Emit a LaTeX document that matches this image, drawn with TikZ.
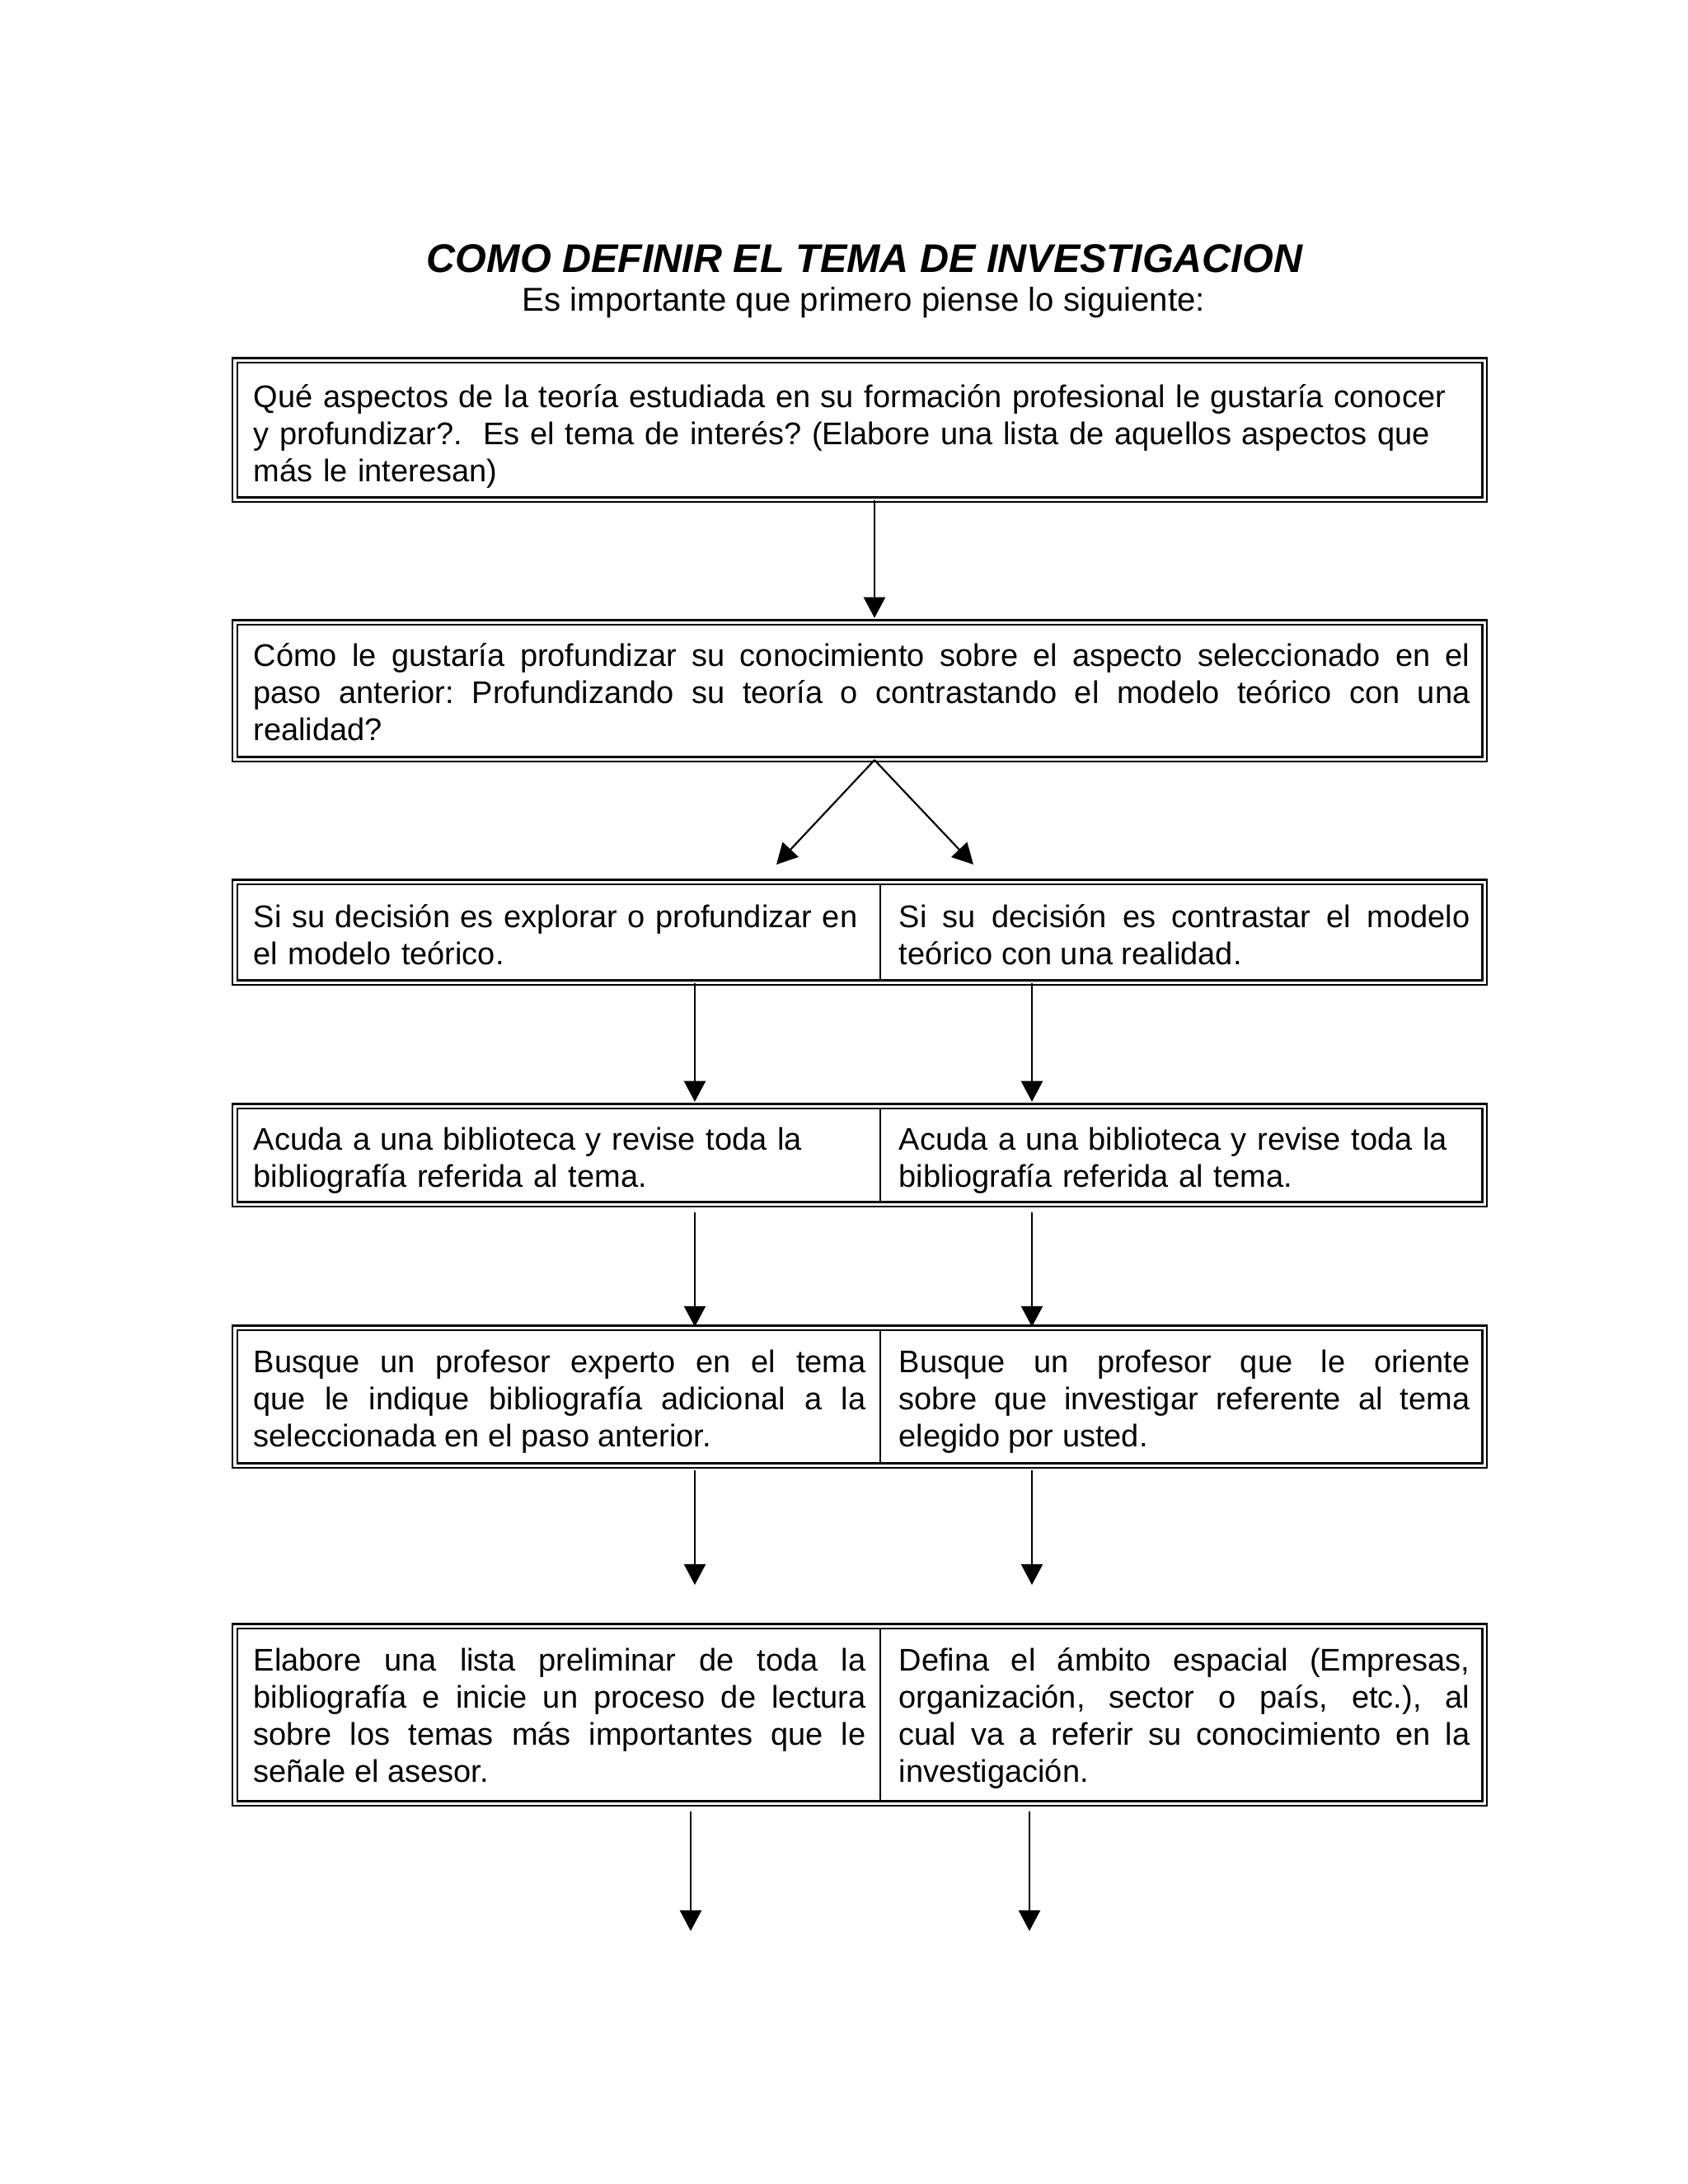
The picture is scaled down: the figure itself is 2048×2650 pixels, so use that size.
\documentclass[tikz,border=0pt]{standalone}
\usepackage{fontspec}
\setmainfont{Liberation Sans}
\usetikzlibrary{arrows.meta,fit}
\frenchspacing
\begin{document}
\begin{tikzpicture}[x=0.2988pt,y=-0.2988pt,
  frame/.style={rectangle, draw, double, line width=0.7pt, double distance=0.9pt, inner sep=0pt},
  txt/.style={inner sep=0pt, anchor=base west, font=\fontsize{11.35}{13.45}\selectfont\frenchspacing},
  jtxt/.style={txt, align=justify},
  ltxt/.style={txt, align=left},
  arr/.style={line width=0.65pt, -{Triangle[length=7.5pt,width=7.8pt]}},
  divl/.style={line width=0.6pt, shorten <=1pt, shorten >=1pt}]
\useasboundingbox (0,0) rectangle (2048,2650);

% title
\node[font=\fontsize{14.5}{17}\selectfont\bfseries\itshape, anchor=base, inner sep=0pt] (title) at (1049,330) {COMO DEFINIR EL TEMA DE INVESTIGACION};
\node[font=\fontsize{12}{14}\selectfont, anchor=base, inner sep=0pt] (sub) at (1048,377) {Es importante que primero piense lo siguiente:};

% helper coordinates
\coordinate (cx) at (1061,0);
\coordinate (cl) at (843,0);
\coordinate (cr) at (1252,0);
\coordinate (fl) at (838,0);
\coordinate (fr) at (1249,0);
\coordinate (dv) at (1068,0);
\coordinate (dl) at (942,1049);
\coordinate (dr) at (1181,1049);
\coordinate (e5l) at (843,1923);
\coordinate (e5r) at (1252,1923);
\coordinate (ffl) at (838,2343);
\coordinate (ffr) at (1249,2343);

% frames
\node[frame, fit={(285,437) (1801,606)}] (b1) {};
\node[frame, fit={(285,755) (1801,921)}] (b2) {};
\node[frame, fit={(285,1070) (1801,1192)}] (b3) {};
\node[frame, fit={(285,1342) (1801,1461)}] (b4) {};
\node[frame, fit={(285,1611) (1801,1778)}] (b5) {};
\node[frame, fit={(285,1973) (1801,2188)}] (b6) {};

% dividers
\draw[divl] (b3.north -| dv) -- (b3.south -| dv);
\draw[divl] (b4.north -| dv) -- (b4.south -| dv);
\draw[divl] (b5.north -| dv) -- (b5.south -| dv);
\draw[divl] (b6.north -| dv) -- (b6.south -| dv);

% texts
\node[ltxt, text width=480pt] (t1) at (307,494) {Qué aspectos de la teoría estudiada en su formación profesional le gustaría conocer\\ y profundizar?.\ \ Es el tema de interés? (Elabore una lista de aquellos aspectos que\\ más le interesan)};

\node[jtxt, text width=441pt] (t2) at (307,808) {Cómo le gustaría profundizar su conocimiento sobre el aspecto seleccionado en el\linebreak paso anterior: Profundizando su teoría o contrastando el modelo teórico con una\linebreak realidad?};

\node[ltxt, text width=250pt] (t3l) at (307,1125) {Si su decisión es explorar o profundizar en\\ el modelo teórico.};
\node[jtxt, text width=207pt] (t3r) at (1090,1125) {Si su decisión es contrastar el modelo\linebreak teórico con una realidad.};

\node[ltxt, text width=250pt] (t4l) at (307,1395) {Acuda a una biblioteca y revise toda la\\ bibliografía referida al tema.};
\node[ltxt, text width=240pt] (t4r) at (1090,1395) {Acuda a una biblioteca y revise toda la\\ bibliografía referida al tema.};

\node[jtxt, text width=222pt] (t5l) at (307,1665) {Busque un profesor experto en el tema\linebreak que le indique bibliografía adicional a la\linebreak seleccionada en el paso anterior.};
\node[jtxt, text width=207pt] (t5r) at (1090,1665) {Busque un profesor que le oriente\linebreak sobre que investigar referente al tema\linebreak elegido por usted.};

\node[jtxt, text width=222pt] (t6l) at (307,2027) {Elabore una lista preliminar de toda la\linebreak bibliografía e inicie un proceso de lectura\linebreak sobre los temas más importantes que le\linebreak señale el asesor.};
\node[jtxt, text width=207pt] (t6r) at (1090,2027) {Defina el ámbito espacial (Empresas,\linebreak organización, sector o país, etc.), al\linebreak cual va a referir su conocimiento en la\linebreak investigación.};

% connectors
\draw[arr, shorten >=1.2pt] (b1.south -| cx) -- (b2.north -| cx);
\draw[arr] (b2.south -| cx) -- (dl);
\draw[arr] (b2.south -| cx) -- (dr);

\draw[arr, shorten >=1.2pt] (b3.south -| cl) -- (b4.north -| cl);
\draw[arr, shorten >=1.2pt] (b3.south -| cr) -- (b4.north -| cr);

\draw[arr, shorten <=2.7pt] (b4.south -| cl) -- (b5.north -| cl);
\draw[arr, shorten <=2.7pt] (b4.south -| cr) -- (b5.north -| cr);

\draw[arr, shorten <=1.5pt] (b5.south -| cl) -- (e5l);
\draw[arr, shorten <=1.5pt] (b5.south -| cr) -- (e5r);

\draw[arr, shorten <=2.7pt] (b6.south -| fl) -- (ffl);
\draw[arr, shorten <=2.7pt] (b6.south -| fr) -- (ffr);
\end{tikzpicture}
\end{document}
